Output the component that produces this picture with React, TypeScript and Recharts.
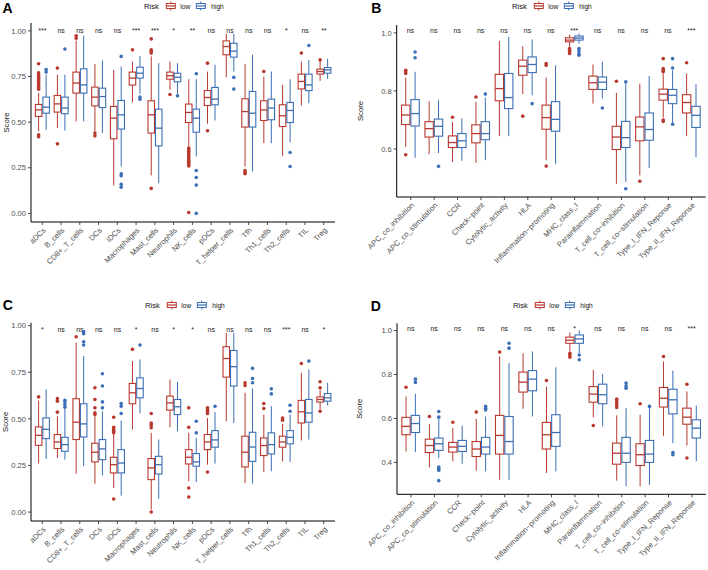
import React from 'react';
import { ComposedChart, Bar, XAxis, YAxis } from 'recharts';

const RED = '#B8382E';
const BLUE = '#3B6EB5';
const FONT = '"Liberation Sans", Arial, Helvetica, sans-serif';

// categories
const immuneCells = ['aDCs', 'B_cells', 'CD8+_T_cells', 'DCs', 'iDCs', 'Macrophages', 'Mast_cells', 'Neutrophils', 'NK_cells', 'pDCs', 'T_helper_cells', 'Tfh', 'Th1_cells', 'Th2_cells', 'TIL', 'Treg'];
const immuneFunctions = ['APC_co_inhibition', 'APC_co_stimulation', 'CCR', 'Check−point', 'Cytolytic_activity', 'HLA', 'Inflammation−promoting', 'MHC_class_I', 'Parainflammation', 'T_cell_co−inhibition', 'T_cell_co−stimulation', 'Type_I_IFN_Reponse', 'Type_II_IFN_Reponse'];

// box stats: [lower whisker, q1, median, q3, upper whisker]
const aLow = [[0.45, 0.531, 0.567, 0.597, 0.66], [0.467, 0.555, 0.6, 0.646, 0.76], [0.504, 0.659, 0.714, 0.774, 0.947], [0.449, 0.589, 0.637, 0.692, 0.818], [0.153, 0.409, 0.522, 0.586, 0.786], [0.608, 0.703, 0.741, 0.774, 0.832], [0.208, 0.44, 0.54, 0.617, 0.86], [0.677, 0.735, 0.754, 0.774, 0.832], [0.367, 0.498, 0.553, 0.599, 0.735], [0.491, 0.591, 0.635, 0.673, 0.777], [0.746, 0.869, 0.914, 0.945, 0.984], [0.257, 0.473, 0.558, 0.628, 0.819], [0.385, 0.509, 0.567, 0.617, 0.75], [0.316, 0.476, 0.535, 0.595, 0.704], [0.591, 0.682, 0.723, 0.763, 0.832], [0.726, 0.763, 0.777, 0.79, 0.835]];
const aLowOut = [[0.82, 0.77, 0.76, 0.75, 0.74, 0.73, 0.72, 0.71, 0.7, 0.69, 0.68, 0.43, 0.42], [0.796, 0.381], [0.973, 0.96], [0.44, 0.425], [], [0.896], [0.956, 0.896, 0.887, 0.878, 0.137], [0.651], [0.358, 0.35, 0.34, 0.33, 0.32, 0.31, 0.3, 0.29, 0.28, 0.27, 0.26, 0.005], [0.823, 0.453], [], [0.235, 0.224, 0.217], [0.777], [], [0.878], [0.841]];
const aHigh = [[0.458, 0.549, 0.582, 0.637, 0.76], [0.454, 0.546, 0.577, 0.637, 0.76], [0.504, 0.659, 0.704, 0.792, 0.973], [0.44, 0.58, 0.64, 0.686, 0.838], [0.257, 0.462, 0.54, 0.619, 0.805], [0.655, 0.741, 0.768, 0.801, 0.863], [0.166, 0.37, 0.467, 0.571, 0.823], [0.655, 0.721, 0.746, 0.768, 0.823], [0.312, 0.445, 0.522, 0.571, 0.735], [0.509, 0.595, 0.626, 0.69, 0.814], [0.777, 0.856, 0.889, 0.932, 0.984], [0.23, 0.473, 0.549, 0.668, 0.869], [0.385, 0.513, 0.577, 0.626, 0.777], [0.389, 0.498, 0.564, 0.608, 0.735], [0.604, 0.673, 0.704, 0.763, 0.84], [0.737, 0.768, 0.786, 0.799, 0.847]];
const aHighOut = [[0.788, 0.774], [0.9], [], [], [0.86, 0.217, 0.206, 0.16, 0.144], [0.637, 0.626], [], [0.644], [0.765, 0.235, 0.197, 0.155, 0], [], [0.745, 0.681], [], [], [0.334, 0.257], [0.92], []];
const aSig = ['***', 'ns', 'ns', 'ns', 'ns', '***', '***', '*', '**', 'ns', 'ns', 'ns', 'ns', '*', 'ns', '**'];

const bLow = [[0.607, 0.684, 0.717, 0.751, 0.846], [0.582, 0.641, 0.67, 0.694, 0.764], [0.555, 0.605, 0.622, 0.645, 0.693], [0.552, 0.621, 0.653, 0.683, 0.762], [0.644, 0.766, 0.808, 0.857, 0.972], [0.789, 0.854, 0.885, 0.906, 0.954], [0.561, 0.668, 0.708, 0.751, 0.846], [0.952, 0.969, 0.975, 0.983, 0.994], [0.756, 0.805, 0.828, 0.851, 0.891], [0.48, 0.598, 0.641, 0.678, 0.793], [0.509, 0.628, 0.676, 0.71, 0.825], [0.708, 0.768, 0.789, 0.806, 0.86], [0.644, 0.724, 0.76, 0.787, 0.86]];
const bLowOut = [[0.871, 0.866, 0.86, 0.58], [], [0.709], [0.779], [], [0.713], [0.894, 0.888, 0.541], [0.946, 0.94, 0.935, 0.929], [], [0.833], [0.489], [0.911, 0.877, 0.871, 0.866, 0.7, 0.695], [0.897]];
const bHigh = [[0.57, 0.679, 0.722, 0.77, 0.866], [0.586, 0.644, 0.678, 0.703, 0.768], [0.559, 0.605, 0.628, 0.653, 0.705], [0.561, 0.632, 0.653, 0.694, 0.777], [0.644, 0.739, 0.777, 0.86, 0.986], [0.785, 0.863, 0.891, 0.917, 0.977], [0.549, 0.661, 0.702, 0.763, 0.888], [0.963, 0.975, 0.982, 0.989, 0.998], [0.774, 0.805, 0.83, 0.848, 0.9], [0.486, 0.605, 0.639, 0.695, 0.825], [0.534, 0.63, 0.667, 0.724, 0.851], [0.687, 0.756, 0.785, 0.805, 0.871], [0.572, 0.674, 0.716, 0.747, 0.823]];
const bHighOut = [[0.934, 0.914], [0.54], [], [0.789], [], [0.756], [], [0.946, 0.938, 0.929, 0.923], [0.741], [0.831, 0.463], [], [0.911, 0.879, 0.685], []];
const bSig = ['ns', 'ns', 'ns', 'ns', 'ns', 'ns', 'ns', '***', 'ns', 'ns', 'ns', 'ns', '***'];

const cLow = [[0.26, 0.358, 0.412, 0.457, 0.599], [0.29, 0.341, 0.376, 0.416, 0.514], [0.206, 0.389, 0.482, 0.608, 0.909], [0.152, 0.269, 0.321, 0.369, 0.514], [0.129, 0.21, 0.254, 0.294, 0.419], [0.443, 0.581, 0.64, 0.69, 0.81], [0.013, 0.174, 0.237, 0.287, 0.425], [0.455, 0.547, 0.586, 0.622, 0.711], [0.165, 0.258, 0.294, 0.335, 0.425], [0.254, 0.335, 0.376, 0.416, 0.505], [0.487, 0.724, 0.824, 0.887, 0.96], [0.156, 0.242, 0.321, 0.407, 0.64], [0.215, 0.303, 0.357, 0.398, 0.523], [0.272, 0.348, 0.376, 0.407, 0.473], [0.384, 0.478, 0.538, 0.599, 0.747], [0.55, 0.59, 0.604, 0.618, 0.658]];
const cLowOut = [[0.618], [0.609, 0.595, 0.536], [0.941], [0.667, 0.604, 0.559, 0.532, 0.523], [0.509, 0.455, 0.443, 0.434, 0.425, 0.07], [0.873], [0.529, 0.478, 0.466, 0.452, 0], [], [0.559, 0.455, 0.129, 0.081], [0.559, 0.55, 0.541, 0.529, 0.215], [], [0.694, 0.679], [0.582, 0.556], [0.505, 0.493], [0.797], [0.699, 0.667, 0.541]];
const cHigh = [[0.285, 0.394, 0.444, 0.505, 0.658], [0.281, 0.326, 0.362, 0.401, 0.556], [0.246, 0.403, 0.473, 0.581, 0.837], [0.197, 0.281, 0.339, 0.389, 0.541], [0.088, 0.21, 0.263, 0.335, 0.491], [0.529, 0.613, 0.663, 0.72, 0.819], [0.072, 0.204, 0.254, 0.299, 0.389], [0.434, 0.523, 0.565, 0.604, 0.699], [0.161, 0.246, 0.269, 0.314, 0.398], [0.26, 0.348, 0.387, 0.437, 0.536], [0.478, 0.676, 0.78, 0.867, 0.962], [0.152, 0.272, 0.349, 0.428, 0.663], [0.219, 0.312, 0.362, 0.425, 0.568], [0.269, 0.366, 0.401, 0.437, 0.523], [0.389, 0.482, 0.532, 0.604, 0.765], [0.572, 0.595, 0.613, 0.636, 0.694]];
const cHighOut = [[], [0.6, 0.59, 0.577, 0.563], [0.968, 0.957, 0.914, 0.896], [0.742, 0.676, 0.591, 0.559], [0.582, 0.568, 0.529], [0.896], [], [], [0.487, 0.425], [0.568], [], [0.771, 0.717, 0.694], [0.661, 0.634], [0.573, 0.541], [0.81], []];
const cSig = ['*', 'ns', 'ns', 'ns', 'ns', '*', 'ns', '*', '*', 'ns', 'ns', 'ns', 'ns', '***', 'ns', '*'];

const dLow = [[0.45, 0.526, 0.564, 0.605, 0.7], [0.377, 0.445, 0.477, 0.506, 0.574], [0.405, 0.447, 0.47, 0.491, 0.556], [0.362, 0.427, 0.461, 0.495, 0.598], [0.321, 0.438, 0.523, 0.614, 0.882], [0.644, 0.72, 0.765, 0.811, 0.897], [0.352, 0.461, 0.526, 0.582, 0.745], [0.905, 0.942, 0.956, 0.97, 0.991], [0.605, 0.674, 0.711, 0.745, 0.821], [0.317, 0.392, 0.442, 0.488, 0.614], [0.291, 0.386, 0.435, 0.485, 0.617], [0.521, 0.652, 0.692, 0.741, 0.859], [0.477, 0.574, 0.606, 0.647, 0.723]];
const dLowOut = [[0.742], [0.609], [0.583], [0.629], [0.902], [], [0.773], [0.897, 0.889, 0.879], [0.568], [0.688, 0.68, 0.67, 0.66, 0.65], [0.667], [0.882], [0.756, 0.42]];
const dHigh = [[0.447, 0.536, 0.577, 0.614, 0.712], [0.42, 0.455, 0.485, 0.511, 0.597], [0.394, 0.45, 0.473, 0.5, 0.568], [0.359, 0.438, 0.47, 0.514, 0.609], [0.321, 0.438, 0.495, 0.609, 0.852], [0.609, 0.726, 0.779, 0.818, 0.905], [0.359, 0.473, 0.536, 0.617, 0.833], [0.897, 0.942, 0.962, 0.98, 1.0], [0.564, 0.667, 0.708, 0.756, 0.803], [0.291, 0.4, 0.442, 0.514, 0.647], [0.298, 0.4, 0.438, 0.5, 0.647], [0.488, 0.621, 0.685, 0.733, 0.818], [0.405, 0.511, 0.556, 0.594, 0.659]];
const dHighOut = [[0.779, 0.764], [0.632, 0.606, 0.379, 0.371, 0.364, 0.317], [], [0.655, 0.647, 0.639], [0.942, 0.92], [], [], [0.889, 0.867], [], [0.761, 0.748, 0.738], [0.655], [0.445, 0.435], []];
const dSig = ['ns', 'ns', 'ns', 'ns', 'ns', 'ns', 'ns', '*', 'ns', 'ns', 'ns', 'ns', '***'];

const W = 354;
const H = 285;

function makeBox(which: 'low' | 'high', color: string, sigY: number) {
  return (props: any) => {
    const { x, y, width, height, payload } = props;
    const s = payload[which + 'Stats'];
    const out: number[] = payload[which + 'Out'];
    const lo = s[0];
    const hi = s[4];
    const py = (v: number) => y + ((hi - v) / (hi - lo)) * height;
    const cx = x + width / 2;
    return (
      <g>
        <line x1={cx} x2={cx} y1={py(s[4])} y2={py(s[3])} stroke={color} strokeWidth={1} />
        <line x1={cx} x2={cx} y1={py(s[1])} y2={py(s[0])} stroke={color} strokeWidth={1} />
        <rect x={x + 0.5} y={py(s[3])} width={width - 1} height={py(s[1]) - py(s[3])} fill="#fff" stroke={color} strokeWidth={1.1} />
        <line x1={x + 0.5} x2={x + width - 0.5} y1={py(s[2])} y2={py(s[2])} stroke={color} strokeWidth={1.3} />
        {out.map((v, i) => (
          <circle key={i} cx={cx} cy={py(v)} r={1.8} fill={color} />
        ))}
        {which === 'low' && (
          <text x={x + width} y={py(sigY)} textAnchor="middle" dominantBaseline="central" fontSize={7} fontFamily={FONT} fill="#222">
            {payload.sig}
          </text>
        )}
      </g>
    );
  };
}

const XTick = (props: any) => {
  const { x, y, payload } = props;
  return (
    <text x={x} y={y} transform={`rotate(-45, ${x}, ${y})`} textAnchor="end" dy="0.72em" fontSize={7.6} fontFamily={FONT} fill="#4d4d4d">
      {payload.value}
    </text>
  );
};

function Legend({ x, y }: { x: number; y: number }) {
  const glyph = (gx: number, color: string) => (
    <g stroke={color} fill="#fff" strokeWidth={1}>
      <line x1={gx + 4.5} x2={gx + 4.5} y1={1.5} y2={3.5} />
      <line x1={gx + 4.5} x2={gx + 4.5} y1={8.5} y2={10.5} />
      <rect x={gx} y={3.5} width={9} height={5} />
      <line x1={gx} x2={gx + 9} y1={6} y2={6} strokeWidth={1.2} />
    </g>
  );
  return (
    <svg width={90} height={12} style={{ position: 'absolute', left: x, top: y - 6 }}>
      <text x={0} y={6} dominantBaseline="central" fontSize={7.7} fontFamily={FONT} fill="#111">Risk</text>
      {glyph(22.3, RED)}
      <text x={36.3} y={6} dominantBaseline="central" fontSize={6.6} fontFamily={FONT} fill="#111">low</text>
      {glyph(52.3, BLUE)}
      <text x={67.3} y={6} dominantBaseline="central" fontSize={6.6} fontFamily={FONT} fill="#111">high</text>
    </svg>
  );
}

interface PanelProps {
  letter: string;
  letterX: number;
  letterY: number;
  left: number;
  top: number;
  categories: string[];
  low: number[][];
  lowOut: number[][];
  high: number[][];
  highOut: number[][];
  sig: string[];
  plot: { l: number; t: number; r: number; b: number };
  domain: [number, number];
  ticks: number[];
  digits: number;
  sigY: number;
  legendX: number;
  legendY: number;
}

function Panel(p: PanelProps) {
  const data = p.categories.map((name, i) => ({
    name,
    low: [p.low[i][0], p.low[i][4]],
    high: [p.high[i][0], p.high[i][4]],
    lowStats: p.low[i],
    highStats: p.high[i],
    lowOut: p.lowOut[i],
    highOut: p.highOut[i],
    sig: p.sig[i],
  }));
  const plotW = p.plot.r - p.plot.l;
  const unit = plotW / (p.categories.length + 0.2);
  const pad = unit * 0.1;
  const barSize = unit * 0.4;
  const midY = (p.plot.t + p.plot.b) / 2;

  return (
    <div style={{ position: 'absolute', left: p.left, top: p.top, width: W, height: H }}>
      <div style={{ position: 'absolute', left: p.letterX, top: p.letterY, fontSize: 14, fontWeight: 'bold', fontFamily: FONT, lineHeight: '14px', color: '#000' }}>
        {p.letter}
      </div>
      <Legend x={p.legendX} y={p.legendY} />
      <ComposedChart
        width={W}
        height={H}
        data={data}
        margin={{ top: p.plot.t, right: W - p.plot.r, left: 0, bottom: 0 }}
        barGap={0}
        barCategoryGap={0}
      >
        <XAxis
          dataKey="name"
          interval={0}
          height={H - p.plot.b}
          padding={{ left: pad, right: pad }}
          tickSize={3}
          tickMargin={2}
          tick={<XTick />}
          axisLine={{ stroke: '#000', strokeWidth: 1 }}
          tickLine={{ stroke: '#333', strokeWidth: 0.9 }}
        />
        <YAxis
          type="number"
          domain={p.domain}
          ticks={p.ticks}
          width={p.plot.l}
          tickSize={3}
          tickMargin={2}
          tickFormatter={(v: number) => v.toFixed(p.digits)}
          tick={{ fontSize: 7.6, fill: '#4d4d4d', fontFamily: FONT }}
          axisLine={{ stroke: '#000', strokeWidth: 1 }}
          tickLine={{ stroke: '#333', strokeWidth: 0.9 }}
          label={() => (
            <text x={6} y={midY} transform={`rotate(-90, 6, ${midY})`} textAnchor="middle" dominantBaseline="central" fontSize={7.7} fontFamily={FONT} fill="#111">
              Score
            </text>
          )}
        />
        <Bar dataKey="low" barSize={barSize} isAnimationActive={false} shape={makeBox('low', RED, p.sigY)} />
        <Bar dataKey="high" barSize={barSize} isAnimationActive={false} shape={makeBox('high', BLUE, p.sigY)} />
      </ComposedChart>
    </div>
  );
}

export default function App() {
  return (
    <div style={{ position: 'absolute', left: 0, top: 0, width: 708, height: 570, background: '#fff', fontFamily: FONT }}>
      <Panel letter="A" letterX={2.5} letterY={1} left={0} top={0} categories={immuneCells} low={aLow} lowOut={aLowOut} high={aHigh} highOut={aHighOut} sig={aSig}
        plot={{ l: 31, t: 23, r: 335, b: 222 }} domain={[-0.047, 1.043]} ticks={[0, 0.25, 0.5, 0.75, 1]} digits={2} sigY={1.0} legendX={143.7} legendY={6} />
      <Panel letter="B" letterX={17.3} letterY={1} left={354} top={0} categories={immuneFunctions} low={bLow} lowOut={bLowOut} high={bHigh} highOut={bHighOut} sig={bSig}
        plot={{ l: 42.7, t: 25, r: 351.7, b: 197 }} domain={[0.4345, 1.027]} ticks={[0.6, 0.8, 1.0]} digits={1} sigY={1.007} legendX={158} legendY={6} />
      <Panel letter="C" letterX={2.7} letterY={13} left={0} top={285} categories={immuneCells} low={cLow} lowOut={cLowOut} high={cHigh} highOut={cHighOut} sig={cSig}
        plot={{ l: 31, t: 37.7, r: 335, b: 236 }} domain={[-0.048, 1.016]} ticks={[0, 0.25, 0.5, 0.75, 1]} digits={2} sigY={0.98} legendX={145.3} legendY={20} />
      <Panel letter="D" letterX={16.7} letterY={13.5} left={354} top={285} categories={immuneFunctions} low={dLow} lowOut={dLowOut} high={dHigh} highOut={dHighOut} sig={dSig}
        plot={{ l: 43, t: 38.3, r: 352, b: 209.3 }} domain={[0.255, 1.033]} ticks={[0.4, 0.6, 0.8, 1.0]} digits={1} sigY={1.008} legendX={159.3} legendY={20} />
    </div>
  );
}
